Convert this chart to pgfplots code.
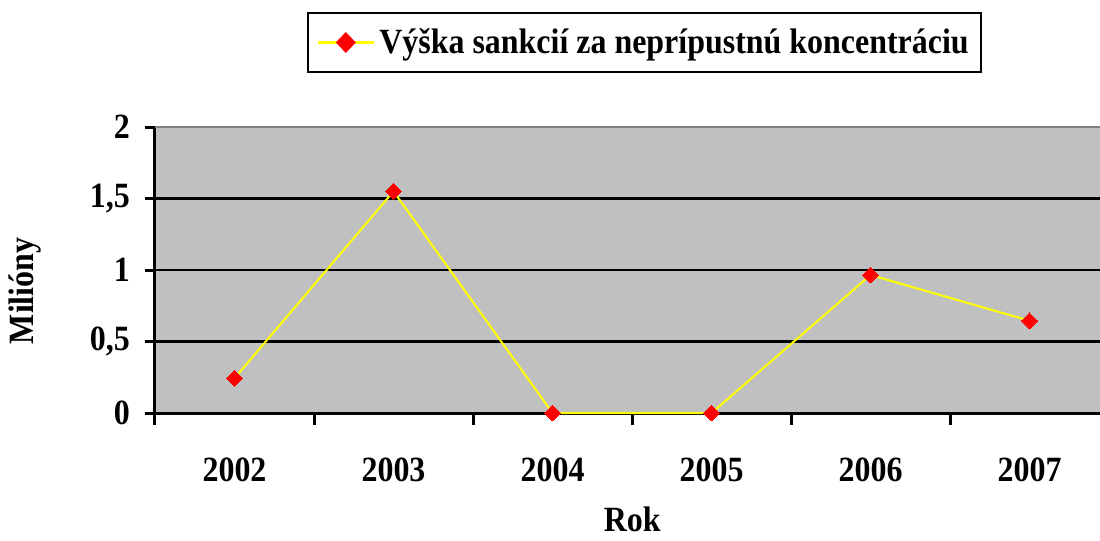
\documentclass[border=0pt]{standalone}
\usepackage{fontspec}
\setmainfont{Liberation Serif}[FakeStretch=0.9]
\usepackage{pgfplots}
\pgfplotsset{compat=1.18}
\definecolor{PlotGray}{HTML}{C0C0C0}
\definecolor{LineYellow}{HTML}{FFFF00}
\definecolor{MarkRed}{HTML}{FF0000}
\newcommand{\chartfont}{\bfseries\fontsize{17.75}{20}\selectfont}

\begin{document}
\begin{tikzpicture}
\path[use as bounding box] (-77.5pt,-64pt) rectangle (472.5pt,206.5pt);
\begin{axis}[
    at={(0,0)}, anchor=south west,
    scale only axis,
    width=472.5pt, height=143pt,
    xmin=-0.5, xmax=5.443,
    ymin=0, ymax=2,
    axis lines*=left,
    axis line style={black, line width=1.5pt},
    axis background/.style={fill=PlotGray},
    xtick={0,1,2,3,4,5},
    xticklabels={2002,2003,2004,2005,2006,2007},
    minor xtick={-0.5,0.5,1.5,2.5,3.5,4.5},
    major x tick style={draw=none},
    minor x tick style={black, line width=1.5pt},
    minor tick length=6pt,
    ytick={0,0.5,1,1.5,2},
    yticklabels={0,{0,5},1,{1,5},2},
    extra y ticks={0.5,1,1.5},
    extra y tick labels={},
    extra y tick style={grid=major, major grid style={black, line width=1.2pt}},
    major y tick style={black, line width=1.5pt},
    major tick length=5pt,
    tick align=outside,
    /pgf/number format/assume math mode=true,
    ticklabel style={font=\chartfont},
    xticklabel style={yshift=-14pt},
    yticklabel style={xshift=-4pt},
    xlabel={Rok},
    ylabel={Milióny},
    label style={font=\chartfont},
    xlabel style={at={(axis description cs:0.505,0)}, anchor=center, yshift=-53pt},
    ylabel style={at={(axis description cs:-0.1376,0.427)}, anchor=center},
    legend style={at={(rel axis cs:0.518,1.2955)}, anchor=center,
        draw=black, line width=1pt, fill=white, font=\chartfont,
        inner xsep=4pt, inner ysep=5.5pt},
    legend image code/.code={
        \draw[LineYellow, line width=1.5pt] (0pt,0pt) -- (28pt,0pt);
        \fill[MarkRed] (14pt,4.5pt) -- (18.3pt,0pt) -- (14pt,-4.5pt) -- (9.7pt,0pt) -- cycle;
    },
    clip=false,
]
\addplot[LineYellow, line width=1pt, mark=square*, mark size=2.8pt,
    mark options={fill=MarkRed, draw=MarkRed, line width=0pt, rotate=45}]
    coordinates {(0,0.243) (1,1.55) (2,0) (3,0) (4,0.965) (5,0.645)};
\addlegendentry{Výška sankcií za neprípustnú koncentráciu}
\draw[gray, line width=1pt] (rel axis cs:0,1) -- (rel axis cs:1,1);
\end{axis}
\end{tikzpicture}
\end{document}
